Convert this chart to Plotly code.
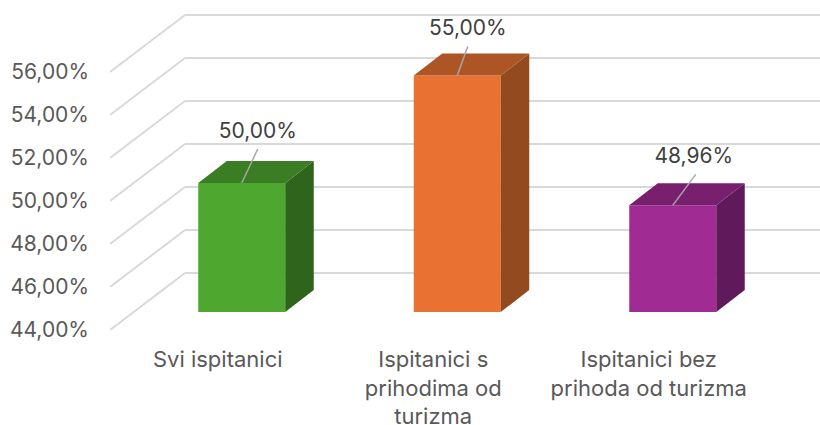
import plotly.graph_objects as go

categories = ["Svi ispitanici", "Ispitanici s<br>prihodima od<br>turizma", "Ispitanici bez<br>prihoda od turizma"]
values = [50.00, 55.00, 48.96]
value_labels = ["50,00%", "55,00%", "48,96%"]
y_ticks = [44, 46, 48, 50, 52, 54, 56]
y_tick_labels = ["44,00%", "46,00%", "48,00%", "50,00%", "52,00%", "54,00%", "56,00%"]

front_colors = ["#4EA72E", "#E97132", "#A02B93"]
top_colors = ["#3B7D23", "#AE5525", "#78206E"]
side_colors = ["#2F641C", "#934A1F", "#60195A"]

PX_X = 215.5
PX_Y = 21.5
W, H = 820, 425
LEFT, BOTTOM_Y = 110, 330
FONT = "Inter"
TEXT = "#595959"

wall_dx, wall_dy = 75 / PX_X, 57 / PX_Y       # floor depth
bar_dx, bar_dy = 24 / PX_X, 18 / PX_Y         # gap of the bar front from the chart front
depth_dx, depth_dy = 28.5 / PX_X, 22 / PX_Y   # bar depth
half = 43.5 / PX_X
label_off = [(16, 50), (10.5, 46), (21, 48)]
leader_from = [(16, 34), (10.5, 29), (23, 31)]

base = y_ticks[0]
centers = [i + 0.5 for i in range(len(categories))]

fig = go.Figure()

for t in y_ticks:
    fig.add_shape(type="line", layer="below", x0=0, y0=t, x1=wall_dx, y1=t + wall_dy,
                  line=dict(color="#D9D9D9", width=2))
    fig.add_shape(type="line", layer="below", x0=wall_dx, y0=t + wall_dy, x1=3 + wall_dx, y1=t + wall_dy,
                  line=dict(color="#D9D9D9", width=2))

fig.add_trace(go.Bar(
    x=[c + bar_dx for c in centers],
    y=[v - base for v in values],
    base=base + bar_dy,
    width=2 * half,
    marker=dict(color=front_colors, line=dict(width=0)),
    showlegend=False,
))

for c, v, top, side, lab, off, lf in zip(centers, values, top_colors, side_colors, value_labels, label_off, leader_from):
    l = c + bar_dx - half
    r = c + bar_dx + half
    b = base + bar_dy
    t = v + bar_dy
    fig.add_trace(go.Scatter(
        x=[r, r + depth_dx, r + depth_dx, r, r],
        y=[b, b + depth_dy, t + depth_dy, t, b],
        mode="lines", fill="toself", fillcolor=side, line=dict(width=0), showlegend=False))
    fig.add_trace(go.Scatter(
        x=[l, r, r + depth_dx, l + depth_dx, l],
        y=[t, t, t + depth_dy, t + depth_dy, t],
        mode="lines", fill="toself", fillcolor=top, line=dict(width=0), showlegend=False))
    mid = c + bar_dx
    fig.add_trace(go.Scatter(
        x=[mid, mid + lf[0] / PX_X], y=[t, t + lf[1] / PX_Y],
        mode="lines", line=dict(color="#A6A6A6", width=1.5), showlegend=False))
    fig.add_trace(go.Scatter(
        x=[mid + off[0] / PX_X], y=[t + off[1] / PX_Y], text=[lab],
        mode="text", textposition="middle center",
        textfont=dict(family=FONT, size=21, color="#404040"), showlegend=False))

fig.update_layout(
    width=W, height=H,
    margin=dict(l=LEFT, r=0, t=0, b=H - BOTTOM_Y, pad=0, autoexpand=False),
    paper_bgcolor="white", plot_bgcolor="white",
    showlegend=False,
    hovermode=False,
    xaxis=dict(range=[0, (W - LEFT) / PX_X], tickmode="array", tickvals=centers, ticktext=categories,
               showgrid=False, zeroline=False, showline=False, ticks="", ticklabelstandoff=14, automargin=False,
               tickangle=0, tickfont=dict(family=FONT, size=22, color=TEXT)),
    yaxis=dict(range=[base, base + BOTTOM_Y / PX_Y], tickmode="array", tickvals=y_ticks, ticktext=y_tick_labels,
               showgrid=False, zeroline=False, showline=False, ticks="", ticklabelstandoff=20,
               automargin=False, tickfont=dict(family=FONT, size=21, color=TEXT)),
)

fig.write_html("out.html", config={"displayModeBar": False}, post_script="document.body.style.margin='0';")
